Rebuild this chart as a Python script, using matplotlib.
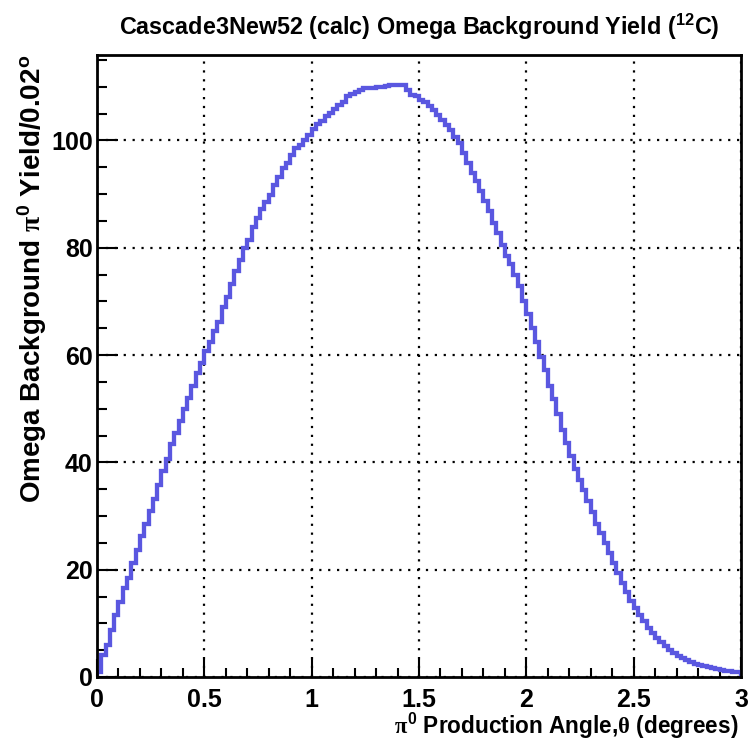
import numpy as np
import matplotlib
matplotlib.use("Agg")
import matplotlib.pyplot as plt
from matplotlib.ticker import MultipleLocator

plt.rcParams['font.family'] = ['Liberation Sans', 'DejaVu Sans']
plt.rcParams['font.weight'] = 'bold'
plt.rcParams['mathtext.fontset'] = 'custom'
plt.rcParams['mathtext.rm'] = 'Liberation Sans:bold'
plt.rcParams['mathtext.bf'] = 'Liberation Sans:bold'
plt.rcParams['mathtext.it'] = 'Liberation Serif'
plt.rcParams['mathtext.default'] = 'rm'

# Histogram data: 150 bins of width 0.02 degrees from 0 to 3
x_min = 0.0
x_max = 3.0
bin_width = 0.02
yields = [
    1.0, 4.1, 5.9, 8.7, 11.5, 13.9, 16.5, 18.5, 21.3, 23.7,
    26.3, 28.5, 31.0, 33.2, 35.8, 38.4, 40.6, 43.4, 45.5, 47.7,
    49.9, 52.0, 54.2, 56.6, 58.5, 60.7, 62.5, 64.4, 66.2, 69.0,
    70.9, 73.2, 75.6, 77.7, 79.9, 81.5, 83.9, 85.5, 87.3, 88.6,
    89.8, 91.7, 93.2, 94.8, 95.7, 97.3, 98.5, 99.1, 100.0, 101.1,
    102.1, 103.0, 103.6, 104.5, 105.1, 105.9, 106.6, 107.2, 108.2, 108.6,
    109.1, 109.4, 109.7, 109.8, 109.8, 109.9, 110.0, 110.2, 110.3, 110.4,
    110.4, 110.3, 109.4, 108.5, 108.2, 107.6, 107.1, 106.5, 105.7, 104.8,
    103.8, 102.9, 102.0, 100.7, 99.5, 97.6, 95.8, 93.9, 92.4, 90.5,
    88.7, 86.8, 84.6, 82.8, 80.6, 78.5, 77.0, 75.0, 72.8, 70.1,
    67.6, 65.0, 62.5, 59.7, 57.2, 54.3, 51.8, 49.1, 46.1, 43.6,
    41.1, 38.8, 36.7, 34.8, 32.8, 30.7, 28.6, 26.8, 24.9, 23.1,
    21.2, 19.3, 17.5, 15.9, 14.1, 12.9, 11.6, 10.4, 9.1, 8.2,
    7.3, 6.5, 5.8, 5.1, 4.5, 4.0, 3.6, 3.1, 2.75, 2.5,
    2.3, 2.0, 1.8, 1.6, 1.5, 1.3, 1.2, 1.1, 1.0, 0.9,
]
x_ticks = [0, 0.5, 1, 1.5, 2, 2.5, 3]
x_tick_labels = ["0", "0.5", "1", "1.5", "2", "2.5", "3"]
y_ticks = [0, 20, 40, 60, 80, 100]
y_tick_labels = ["0", "20", "40", "60", "80", "100"]

edges = np.linspace(x_min, x_max, len(yields) + 1)
values = np.array(yields)

W, H = 750, 744
fig = plt.figure(figsize=(W/100, H/100), dpi=100)
ax = fig.add_axes([97/W, 1 - 677/H, (741-97)/W, (677-55)/H])

ax.stairs(values, edges, baseline=0, color='#5a57e0', linewidth=3.1, zorder=3)

ax.set_xlim(x_min, x_max)
ax.set_ylim(0, values.max() * 1.05)

ax.set_xticks(x_ticks)
ax.set_xticklabels(x_tick_labels)
ax.set_yticks(y_ticks)
ax.set_yticklabels(y_tick_labels)
ax.xaxis.set_minor_locator(MultipleLocator(0.1))
ax.yaxis.set_minor_locator(MultipleLocator(5))

ax.tick_params(axis='both', which='both', direction='in', top=False, right=False,
               width=1.5, labelsize=18)
ax.tick_params(axis='x', which='major', length=13, pad=8)
ax.tick_params(axis='y', which='major', length=15, pad=3)
ax.tick_params(axis='x', which='minor', length=6.5)
ax.tick_params(axis='y', which='minor', length=7)
for lab in ax.get_xticklabels() + ax.get_yticklabels():
    lab.set_fontweight('bold')

ax.grid(True, which='major', color='black', linestyle=(0, (1, 3)), linewidth=1.6)
ax.set_axisbelow(True)
for sp in ax.spines.values():
    sp.set_linewidth(2)
    sp.set_color('black')
    sp.set_zorder(5)

fig.text(419/W, 1 - 27/H, r"Cascade3New52 (calc) Omega Background Yield ($^{12}$C)",
         ha='center', va='center', fontsize=16.8, fontweight='bold')

fig.text(32/W, 1 - 55/H, r"Omega Background $\mathit{\pi}^{0}$ Yield/0.02$^{o}$",
         rotation=90, ha='center', va='top', fontsize=20, fontweight='bold')
fig.text(739/W, 1 - 741/H, r"$\mathit{\pi}^{0}$ Production Angle,$\mathit{\theta}$ (degrees)",
         ha='right', va='bottom', fontsize=16.3, fontweight='bold')

fig.savefig("out.png", dpi=100)
